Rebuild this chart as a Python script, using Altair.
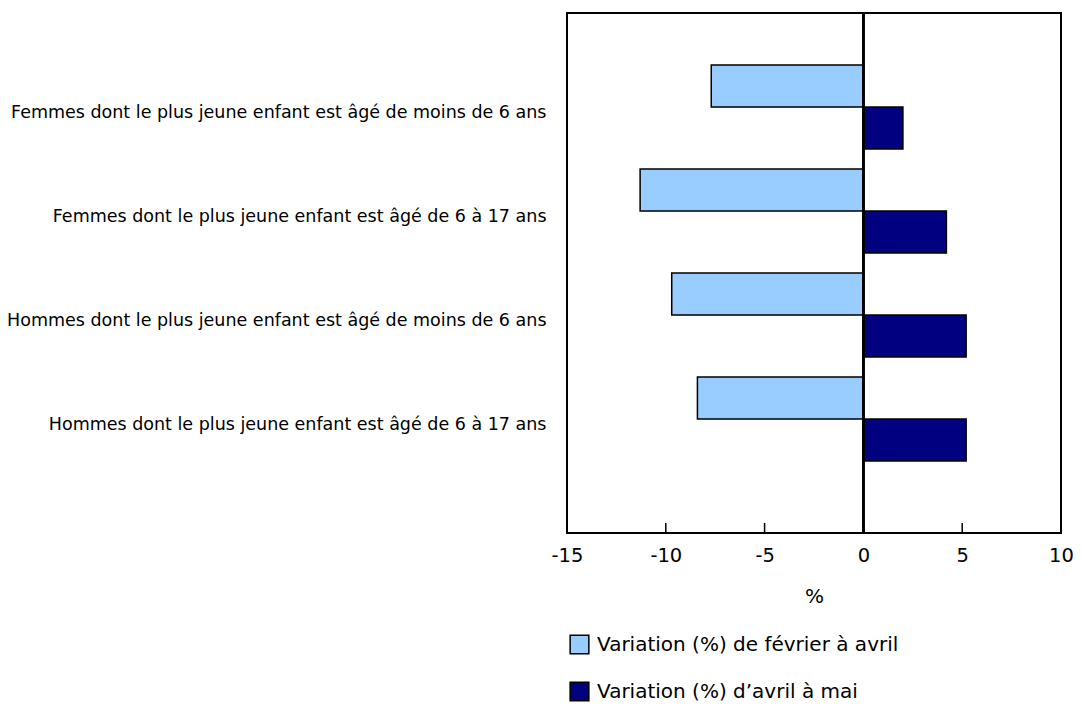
import altair as alt
import pandas as pd

categories = [
    "Femmes dont le plus jeune enfant est âgé de moins de 6 ans",
    "Femmes dont le plus jeune enfant est âgé de 6 à 17 ans",
    "Hommes dont le plus jeune enfant est âgé de moins de 6 ans",
    "Hommes dont le plus jeune enfant est âgé de 6 à 17 ans",
]
series = ["Variation (%) de février à avril", "Variation (%) d’avril à mai"]
feb_apr = [-7.7, -11.3, -9.7, -8.4]
apr_may = [2.0, 4.2, 5.2, 5.2]
x_ticks = [-15, -10, -5, 0, 5, 10]
colors = ["#99CCFF", "#000080"]

rows = []
for c, a, b in zip(categories, feb_apr, apr_may):
    rows.append({"cat": c, "series": series[0], "value": a})
    rows.append({"cat": c, "series": series[1], "value": b})
df = pd.DataFrame(rows)
ticks_df = pd.DataFrame({"value": x_ticks})

FONT = "DejaVu Sans"
W, H = 494, 520

xscale = alt.Scale(domain=[-15, 10], nice=False, zero=False)

bars = alt.Chart(df).mark_bar(stroke="black", strokeWidth=1.5).encode(
    x=alt.X(
        "value:Q",
        scale=xscale,
        axis=alt.Axis(
            values=x_ticks, title="%", ticks=False, domain=False, grid=False,
            labelPadding=13, titlePadding=22, labelFontSize=19.5, titleFontSize=20,
            labelColor="black", titleColor="black", titleFontWeight="normal",
            labelFlush=False, labelExpr="toString(datum.value)",
        ),
    ),
    y=alt.Y(
        "cat:N",
        sort=categories,
        scale=alt.Scale(paddingInner=0.19231, paddingOuter=0.59615, align=0.41935),
        axis=alt.Axis(
            title=None, ticks=False, domain=False, grid=False, labelPadding=21,
            labelLimit=800, labelFontSize=17.5, labelColor="black", labelOffset=6,
        ),
    ),
    yOffset=alt.YOffset("series:N", sort=series, scale=alt.Scale(paddingInner=0, paddingOuter=0)),
    color=alt.Color(
        "series:N",
        sort=series,
        scale=alt.Scale(domain=series, range=colors),
        legend=alt.Legend(
            title=None, orient="none", legendX=2, legendY=621, direction="vertical",
            symbolType="square", symbolSize=350, symbolStrokeColor="black",
            symbolStrokeWidth=1.5, symbolOpacity=1, labelFontSize=20,
            labelColor="black", rowPadding=22, labelOffset=7, padding=0,
            labelLimit=700,
        ),
    ),
)

tick_marks = alt.Chart(ticks_df).mark_rule(color="black", strokeWidth=1.5).encode(
    x=alt.X("value:Q", scale=xscale),
    y=alt.value(H - 10),
    y2=alt.value(H),
)

zero_line = alt.Chart(ticks_df).mark_rule(color="black", strokeWidth=2).encode(
    x=alt.datum(0),
)

chart = (
    alt.layer(bars, zero_line, tick_marks)
    .properties(
        width=W,
        height=H,
        autosize=alt.AutoSizeParams(type="none"),
        padding={"left": 559, "top": 5, "right": 13, "bottom": 172},
    )
    .configure_view(stroke="black", strokeWidth=2)
    .configure_axis(labelFont=FONT, titleFont=FONT)
    .configure_legend(labelFont=FONT)
)

chart.save("out.html", embed_options={"renderer": "svg", "actions": False})
